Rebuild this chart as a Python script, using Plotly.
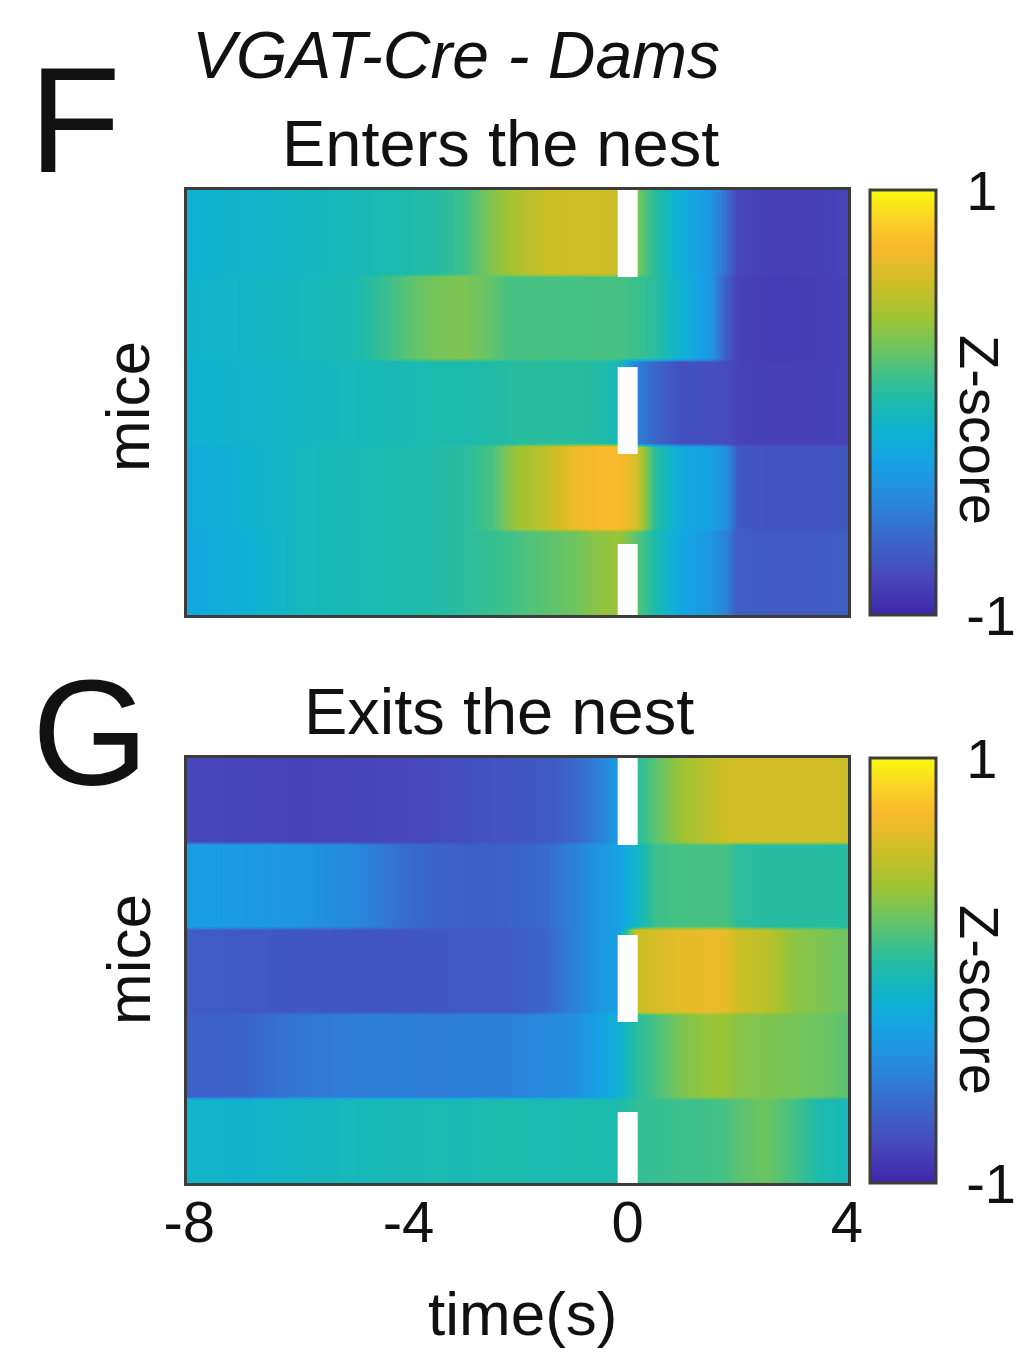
import plotly.graph_objects as go

W, H = 1016, 1353

# time points (s) relative to the nest event
time_s = [-8, -7, -6, -5, -4, -3.5, -3, -2.5, -2.2, -2, -1.5, -1, -0.5, -0.15,
          0.15, 0.5, 1, 1.5, 1.8, 2, 2.5, 3, 3.5, 4]

# Z-scored activity per mouse, "Enters the nest"
enter_m1 = [-0.15, -0.11, -0.08, -0.04, 0.00, 0.03, 0.12, 0.30, 0.40, 0.45, 0.55, 0.57, 0.57, 0.55,
            0.30, 0.05, -0.20, -0.35, -0.60, -0.82, -0.86, -0.86, -0.86, -0.84]
enter_m2 = [-0.12, -0.09, -0.06, -0.02, 0.20, 0.28, 0.30, 0.22, 0.15, 0.15, 0.15, 0.14, 0.15, 0.15,
            0.12, 0.05, -0.15, -0.35, -0.70, -0.85, -0.88, -0.88, -0.87, -0.85]
enter_m3 = [-0.14, -0.11, -0.08, -0.05, -0.03, 0.00, 0.00, 0.02, 0.03, 0.05, 0.05, 0.05, 0.02, -0.05,
            -0.50, -0.65, -0.78, -0.78, -0.80, -0.85, -0.86, -0.86, -0.86, -0.85]
enter_m4 = [-0.22, -0.14, -0.06, -0.03, 0.00, 0.02, 0.05, 0.15, 0.30, 0.40, 0.50, 0.68, 0.75, 0.75,
            0.60, 0.05, -0.22, -0.28, -0.40, -0.72, -0.75, -0.75, -0.75, -0.73]
enter_m5 = [-0.24, -0.16, -0.06, -0.03, 0.00, 0.02, 0.05, 0.10, 0.12, 0.15, 0.20, 0.25, 0.35, 0.38,
            0.20, 0.00, -0.25, -0.35, -0.50, -0.70, -0.72, -0.72, -0.72, -0.70]

# Z-scored activity per mouse, "Exits the nest"
exit_m1 = [-0.82, -0.84, -0.85, -0.84, -0.82, -0.80, -0.78, -0.76, -0.75, -0.74, -0.72, -0.65, -0.50, -0.30,
           0.05, 0.20, 0.40, 0.50, 0.57, 0.58, 0.58, 0.58, 0.58, 0.56]
exit_m2 = [-0.30, -0.33, -0.36, -0.45, -0.62, -0.66, -0.68, -0.68, -0.67, -0.66, -0.62, -0.50, -0.35, -0.28,
           -0.10, 0.12, 0.15, 0.15, 0.15, 0.06, 0.04, 0.04, 0.04, 0.03]
exit_m3 = [-0.70, -0.72, -0.73, -0.74, -0.74, -0.73, -0.72, -0.72, -0.72, -0.70, -0.65, -0.50, -0.35, -0.30,
           0.55, 0.60, 0.65, 0.68, 0.66, 0.56, 0.50, 0.35, 0.30, 0.25]
exit_m4 = [-0.68, -0.66, -0.55, -0.52, -0.50, -0.52, -0.50, -0.50, -0.50, -0.48, -0.45, -0.40, -0.28, -0.15,
           0.05, 0.15, 0.30, 0.38, 0.38, 0.33, 0.30, 0.28, 0.25, 0.20]
exit_m5 = [-0.10, -0.12, -0.08, -0.05, -0.03, -0.02, -0.03, 0.00, 0.00, 0.00, -0.02, 0.00, 0.00, 0.00,
           0.08, 0.10, 0.12, 0.13, 0.15, 0.20, 0.25, 0.15, 0.00, -0.05]

enter_rows = [enter_m1, enter_m2, enter_m3, enter_m4, enter_m5]
exit_rows = [exit_m1, exit_m2, exit_m3, exit_m4, exit_m5]

x_ticks = [-8, -4, 0, 4]
cbar_ticks = [-1, 1]
cbar_text = ["-1", "1"]

# parula-like colour map
parula = [
    [0.00, "rgb(62,38,168)"],
    [0.08, "rgb(72,68,185)"],
    [0.17, "rgb(60,100,200)"],
    [0.27, "rgb(40,135,220)"],
    [0.36, "rgb(22,162,228)"],
    [0.43, "rgb(15,178,210)"],
    [0.50, "rgb(28,186,172)"],
    [0.56, "rgb(60,192,140)"],
    [0.62, "rgb(105,196,100)"],
    [0.70, "rgb(160,196,50)"],
    [0.78, "rgb(205,190,38)"],
    [0.87, "rgb(250,185,45)"],
    [0.94, "rgb(250,215,35)"],
    [1.00, "rgb(249,251,14)"],
]

FONT = "Liberation Sans, Arial, sans-serif"
FRAME = "#3c3c3c"


def px_x(p):
    return p / W


def px_y(p):
    return 1 - p / H


def banded(rows):
    # each mouse occupies one band; the two copies keep band edges crisp
    z, y = [], []
    for i, r in enumerate(rows):
        z += [r, r]
        y += [i + 0.02, i + 0.98]
    return z, y


x_dom = [px_x(187), px_x(848)]
top_px = (190, 615)
bot_px = (758, 1183)

fig = go.Figure()

for k, (rows, px) in enumerate([(enter_rows, top_px), (exit_rows, bot_px)]):
    z, y = banded(rows)
    xa = "x" if k == 0 else "x2"
    ya = "y" if k == 0 else "y2"
    fig.add_trace(go.Heatmap(
        x=time_s, y=y, z=z, zmin=-1, zmax=1, zsmooth="best",
        colorscale=parula, xaxis=xa, yaxis=ya,
        colorbar=dict(
            x=px_x(870), xanchor="left", xpad=0,
            y=px_y((px[0] + px[1]) / 2), yanchor="middle", ypad=0,
            len=px[1] - px[0], lenmode="pixels",
            thickness=66, thicknessmode="pixels",
            outlinewidth=3, outlinecolor=FRAME,
            tickvals=cbar_ticks, ticktext=cbar_text,
            ticks="outside", ticklen=18, tickcolor="rgba(0,0,0,0)",
            tickfont=dict(family=FONT, size=56, color="#111"),
        ),
    ))

axis_common = dict(showline=True, mirror=True, linecolor=FRAME, linewidth=3,
                   showgrid=False, zeroline=False, automargin=False)

fig.update_layout(
    template="none",
    width=W, height=H, margin=dict(l=0, r=0, t=0, b=0, autoexpand=False),
    paper_bgcolor="white", plot_bgcolor="white", showlegend=False,
    font=dict(family=FONT, color="#111"),
    xaxis=dict(domain=x_dom, range=[-8.04, 4.02], anchor="y",
               showticklabels=False, ticks="", **axis_common),
    yaxis=dict(domain=[px_y(top_px[1]), px_y(top_px[0])], range=[5, 0], anchor="x",
               showticklabels=False, ticks="", **axis_common),
    xaxis2=dict(domain=x_dom, range=[-8.04, 4.02], anchor="y2",
                tickvals=x_ticks, ticktext=[str(v) for v in x_ticks],
                ticks="", ticklabelstandoff=-14,
                tickfont=dict(family=FONT, size=58, color="#111"), **axis_common),
    yaxis2=dict(domain=[px_y(bot_px[1]), px_y(bot_px[0])], range=[5, 0], anchor="x2",
                showticklabels=False, ticks="", **axis_common),
)

# dashed white marker at the event time (t = 0)
for xr, yr in [("x", "y"), ("x2", "y2")]:
    fig.add_shape(type="line", xref=xr, yref=yr, x0=0, x1=0, y0=0, y1=5,
                  line=dict(color="white", width=20, dash="87px,90px"), layer="above")


def label(text, x, y, size, angle=0, xanchor="center"):
    fig.add_annotation(text=text, x=px_x(x), y=px_y(y), xref="paper", yref="paper",
                       xanchor=xanchor, yanchor="middle", showarrow=False,
                       textangle=angle, font=dict(family=FONT, size=size, color="#111"))


label("F", 75, 120, 150)
label("G", 90, 733, 150)
label("<i>VGAT-Cre - Dams</i>", 190, 55, 66, xanchor="left")
label("Enters the nest", 500, 143, 65)
label("Exits the nest", 499, 711, 65)
label("mice", 128, 407, 62, angle=-90)
label("mice", 128, 960, 62, angle=-90)
label("Z-score", 980, 430, 56, angle=90)
label("Z-score", 980, 1000, 56, angle=90)
label("time(s)", 522, 1313, 62)

fig.write_html("out.html")
